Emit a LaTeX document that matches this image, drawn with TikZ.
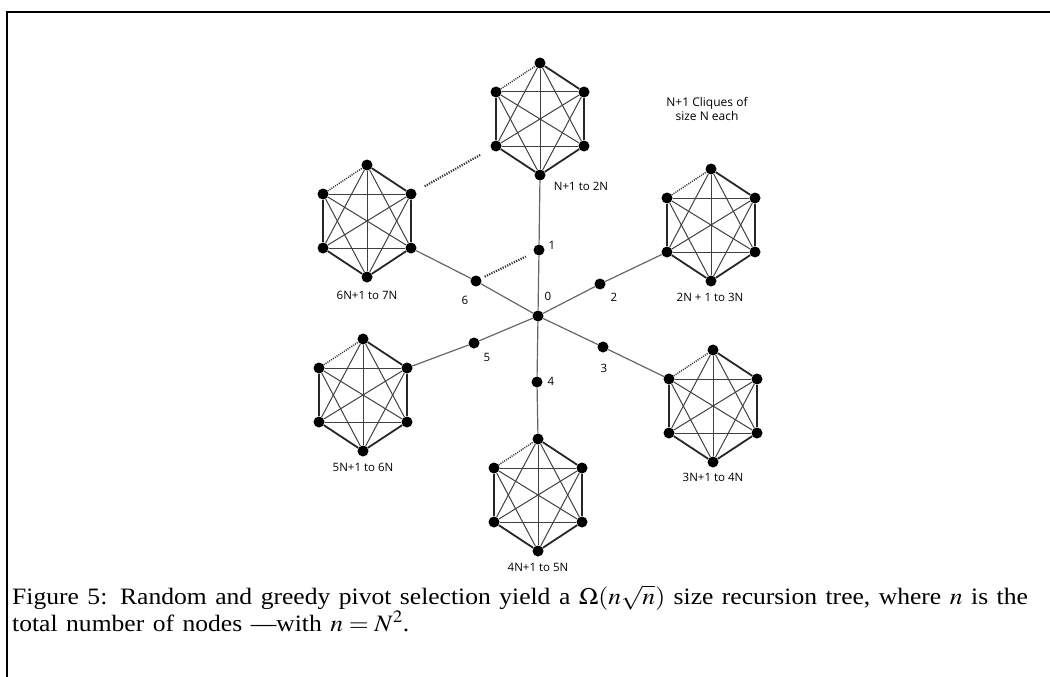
\documentclass[tikz,border=0pt]{standalone}
\usepackage{mathptmx}
\usepackage[no-math]{fontspec}
\setmainfont{Liberation Serif}
\newfontfamily\labelfont{Open Sans}
\usepackage{amsmath, amssymb}

\begin{document}
\begin{tikzpicture}[x=1pt,y=-1pt,
    vtx/.style={circle,fill=black,inner sep=0pt,minimum size=11pt},
    rim/.style={line width=1.8pt,draw=black!85},
    chord/.style={line width=1pt,draw=black!75},
    gap/.style={line width=1.5pt,draw=black!80,dash pattern=on 1pt off 1.2pt},
    farlink/.style={line width=2.2pt,draw=black!80,dash pattern=on 1.2pt off 1.3pt},
    branch/.style={line width=1.2pt,draw=black!60},
    tag/.style={font=\labelfont\fontsize{11.5}{13}\selectfont,inner sep=1pt}]

      \useasboundingbox (0,0) rectangle (1050,677);
      \draw[line width=2pt] (7,677) -- (7,12) -- (1050,12);

      % the seven cliques
      \foreach \c/\cx/\cy in {a/540/119, b/711/225, c/713/406, d/538/495, e/363/395, f/367/221} {
        \node[vtx] (\c1) at (\cx,\cy-56) {};
        \node[vtx] (\c2) at (\cx+44,\cy-27) {};
        \node[vtx] (\c3) at (\cx+44,\cy+27) {};
        \node[vtx] (\c4) at (\cx,\cy+56) {};
        \node[vtx] (\c5) at (\cx-44,\cy+27) {};
        \node[vtx] (\c6) at (\cx-44,\cy-27) {};
        \foreach \i/\j in {1/3,1/4,1/5,2/4,2/5,2/6,3/5,3/6,4/6}
          \draw[chord] (\c\i) -- (\c\j);
        \foreach \i/\j in {1/2,2/3,3/4,4/5,5/6}
          \draw[rim] (\c\i) -- (\c\j);
        \draw[gap] (\c6) -- (\c1);
      }

      % the tree in the middle
      \node[vtx] (root) at (538,316) {};
      \node[vtx] (t1) at (539,250) {};
      \node[vtx] (t2) at (600,284) {};
      \node[vtx] (t3) at (603,347) {};
      \node[vtx] (t4) at (537,382) {};
      \node[vtx] (t5) at (474,343) {};
      \node[vtx] (t6) at (476,281) {};

      \draw[branch] (a4) -- (t1) -- (root);
      \draw[branch] (b5) -- (t2) -- (root);
      \draw[branch] (c6) -- (t3) -- (root);
      \draw[branch] (d1) -- (t4) -- (root);
      \draw[branch] (e2) -- (t5) -- (root);
      \draw[branch] (f3) -- (t6) -- (root);

      \draw[farlink, shorten <=10pt, shorten >=12pt] (f2) -- (a5);
      \draw[farlink, shorten <=4pt, shorten >=9pt] (t6) -- (t1);

      \node[tag] (l0) at (548,296) {0};
      \node[tag] (l1) at (552,245) {1};
      \node[tag] (l2) at (614,297) {2};
      \node[tag] (l3) at (604,368) {3};
      \node[tag] (l4) at (551,381) {4};
      \node[tag] (l5) at (487,357) {5};
      \node[tag] (l6) at (465,300) {6};

      \node[tag] (la) at (581,186) {N+1 to 2N};
      \node[tag] (lb) at (710,297) {2N + 1 to 3N};
      \node[tag] (lc) at (713,477) {3N+1 to 4N};
      \node[tag] (ld) at (538,567) {4N+1 to 5N};
      \node[tag] (le) at (363,467) {5N+1 to 6N};
      \node[tag] (lf) at (367,295) {6N+1 to 7N};
      \node[tag,align=center,text=black,font=\labelfont\fontsize{12}{14}\selectfont] (title) at (707,109) {N+1 Cliques of\\size N each};

      \node[anchor=base west,inner sep=0pt,text width=950pt,xscale=1.088,transform shape,
            font=\fontsize{23.5}{26}\selectfont] (caption) at (12,604)
        {Figure 5: Random and greedy pivot selection yield a $\Omega(n\sqrt{n})$ size recursion tree, where $n$ is the\linebreak
         total number of nodes ---with $n=N^2$.};

    \end{tikzpicture}
\end{document}
